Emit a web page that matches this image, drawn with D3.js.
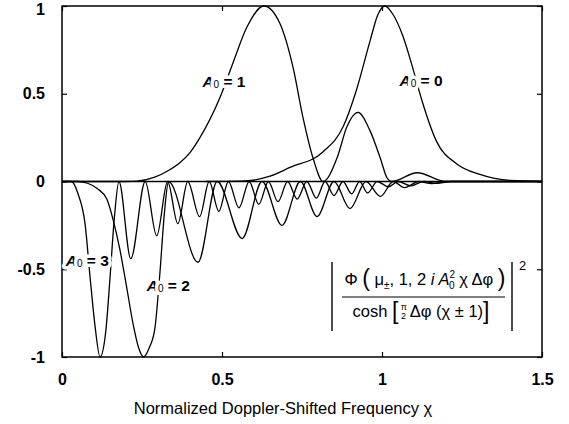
<!DOCTYPE html>
<html><head><meta charset="utf-8">
<script src="https://cdn.jsdelivr.net/npm/d3@7"></script>
<style>body{margin:0;background:#fff}svg{display:block}</style>
</head><body>
<svg id="c" width="569" height="424"></svg>
<script>
// ---- data ----
const xTicks = [0, 0.5, 1, 1.5];
const xTickLabels = ["0", "0.5", "1", "1.5"];
const yTicks = [-1, -0.5, 0, 0.5, 1];
const yTickLabels = ["-1", "-0.5", "0", "0.5", "1"];
const xTitle = "Normalized Doppler-Shifted Frequency χ";

const curveA0 = [[0.45,0],[0.55,0.002],[0.59,0.006],[0.65,0.03],[0.7125,0.08],[0.816,0.17],[0.878,0.31],[0.92,0.52],[0.9625,0.80],[0.987,0.95],[1.009,1.0],[1.035,0.95],[1.065,0.83],[1.094,0.66],[1.125,0.46],[1.17,0.23],[1.234,0.10],[1.306,0.04],[1.4,0.006],[1.5,0]];
const curveA1 = [[0,0],[0.2,0],[0.234,0.002],[0.29,0.025],[0.33,0.06],[0.37,0.11],[0.4,0.165],[0.431,0.25],[0.494,0.48],[0.534,0.674],[0.578,0.88],[0.631,1],[0.681,0.9],[0.722,0.65],[0.753,0.366],[0.784,0.137],[0.816,0],[0.86,0.137],[0.89,0.31],[0.925,0.394],[0.9625,0.29],[0.994,0.137],[1.016,0.02],[1.03,0],[1.11,0.05],[1.2,0],[1.5,0]];
const curveA2 = [[0,0],[0.05,0],[0.08,-0.01],[0.11,-0.04],[0.14,-0.1],[0.16,-0.22],[0.18,-0.38],[0.2,-0.58],[0.222,-0.81],[0.24,-0.95],[0.255,-1],[0.272,-0.95],[0.29,-0.84],[0.306,-0.52],[0.32,-0.18],[0.333,0],[0.425,-0.46],[0.485,0],[0.563,-0.325],[0.625,0],[0.6875,-0.25],[0.745,0],[0.797,-0.2],[0.85,0],[0.9,-0.155],[0.95,0],[0.995,-0.085],[1.035,0],[1.07,-0.035],[1.115,0],[1.155,-0.012],[1.2,0],[1.5,0]];
const curveA3 = [[0,0],[0.03,0],[0.05,-0.07],[0.072,-0.24],[0.088,-0.55],[0.103,-0.82],[0.119,-1],[0.137,-0.85],[0.15,-0.55],[0.163,-0.22],[0.178,0],[0.215,-0.44],[0.26,0],[0.296,-0.31],[0.33,0],[0.362,-0.24],[0.393,0],[0.43,-0.2],[0.46,0],[0.49,-0.17],[0.52,0],[0.553,-0.15],[0.585,0],[0.615,-0.13],[0.645,0],[0.675,-0.115],[0.705,0],[0.735,-0.1],[0.765,0],[0.795,-0.095],[0.822,0],[0.85,-0.08],[0.878,0],[0.905,-0.07],[0.93,0],[0.955,-0.065],[0.985,0],[1.02,-0.03],[1.05,0],[1.09,-0.025],[1.13,0],[1.17,-0.01],[1.22,0],[1.5,0]];

const labels = [
  {sub:"0", val:"0", x:1.122, y:0.578},
  {sub:"0", val:"1", x:0.506, y:0.575},
  {sub:"0", val:"2", x:0.332, y:-0.59},
  {sub:"0", val:"3", x:0.079, y:-0.445}
];

// ---- layout ----
const svg = d3.select("#c");
const x = d3.scaleLinear().domain([0, 1.5]).range([62, 542]);
const y = d3.scaleLinear().domain([-1, 1]).range([357, 6]);
const font = "'Liberation Sans', Arial, Helvetica, sans-serif";

// zero line
svg.append("line").attr("x1", x(0)).attr("x2", x(1.5)).attr("y1", y(0)).attr("y2", y(0))
  .attr("stroke", "#000").attr("stroke-width", 1.3);

const line = d3.line().x(d => x(d[0])).y(d => y(d[1])).curve(d3.curveMonotoneX);
[curveA0, curveA1, curveA2, curveA3].forEach(c => {
  svg.append("path").attr("d", line(c)).attr("fill", "none").attr("stroke", "#000").attr("stroke-width", 1.3);
});

// axes
const ax = g => g.call(s => s.select(".domain").remove())
  .call(s => s.selectAll("text").attr("font-family", font).attr("font-size", 16).attr("font-weight", "bold").attr("fill", "#000"))
  .call(s => s.selectAll("line").attr("stroke", "#000").attr("stroke-width", 1.2));
const gl = svg.append("g").attr("transform", `translate(${x(0)},0)`)
  .call(d3.axisLeft(y).tickValues(yTicks).tickSize(-5).tickPadding(17).tickFormat((d, i) => yTickLabels[i])).call(ax);
gl.selectAll("text").filter(d => d === 1).attr("dy", "0.5em");
svg.append("g").attr("transform", `translate(0,${y(-1)})`)
  .call(d3.axisBottom(x).tickValues(xTicks).tickSize(-5).tickPadding(17).tickFormat((d, i) => xTickLabels[i])).call(ax);
svg.append("g").attr("transform", `translate(${x(1.5)},0)`)
  .call(d3.axisRight(y).tickValues(yTicks).tickSize(-5).tickFormat("")).call(ax);
svg.append("g").attr("transform", `translate(0,${y(1)})`)
  .call(d3.axisTop(x).tickValues(xTicks).tickSize(-5).tickFormat("")).call(ax);

// frame
svg.append("rect").attr("x", x(0)).attr("y", y(1)).attr("width", x(1.5) - x(0)).attr("height", y(-1) - y(1))
  .attr("fill", "none").attr("stroke", "#000").attr("stroke-width", 1.5);

// title
svg.append("text").attr("x", 283).attr("y", 414).attr("text-anchor", "middle")
  .attr("font-family", font).attr("font-size", 16.5).text(xTitle);

// curve labels
labels.forEach(l => {
  const t = svg.append("text").attr("x", x(l.x)).attr("y", y(l.y)).attr("text-anchor", "middle")
    .attr("dominant-baseline", "central")
    .attr("font-family", font).attr("font-size", 15.5).attr("font-weight", "bold")
    .attr("stroke", "#fff").attr("stroke-width", 7).attr("paint-order", "stroke").attr("stroke-linejoin", "round");
  t.append("tspan").attr("font-style", "italic").text("A");
  t.append("tspan").attr("font-size", 10).attr("font-weight", "normal").attr("dy", 3).text(l.sub);
  t.append("tspan").attr("dy", -3).text(" = " + l.val);
});

// formula
const fg = svg.append("g").attr("font-family", font).attr("font-size", 16.5).attr("fill", "#000");
fg.append("line").attr("x1", 332).attr("x2", 332).attr("y1", 262).attr("y2", 331).attr("stroke", "#000").attr("stroke-width", 1.4);
fg.append("line").attr("x1", 512).attr("x2", 512).attr("y1", 262).attr("y2", 331).attr("stroke", "#000").attr("stroke-width", 1.4);
fg.append("line").attr("x1", 342).attr("x2", 505).attr("y1", 297).attr("y2", 297).attr("stroke", "#000").attr("stroke-width", 1.2);
fg.append("text").attr("x", 519).attr("y", 270).attr("font-size", 13).text("2");
const num = fg.append("text").attr("x", 425).attr("y", 285).attr("text-anchor", "middle");
num.append("tspan").text("Φ ");
num.append("tspan").attr("font-size", 23).attr("dy", 1).text("(");
num.append("tspan").attr("dy", -1).text(" μ");
num.append("tspan").attr("font-size", 10).attr("dy", 4).text("±");
num.append("tspan").attr("dy", -4).text(", 1, 2 ");
num.append("tspan").attr("font-style", "italic").text("i A");
num.append("tspan").attr("font-size", 10).attr("dy", -7).text("2");
num.append("tspan").attr("font-size", 10).attr("dx", -6).attr("dy", 11).text("0");
num.append("tspan").attr("dy", -4).text(" χ Δφ ");
num.append("tspan").attr("font-size", 23).attr("dy", 1).text(")");
const den = fg.append("text").attr("x", 421).attr("y", 317).attr("text-anchor", "middle");
den.append("tspan").text("cosh ");
den.append("tspan").attr("font-size", 23).attr("dy", 2).text("[");
den.append("tspan").attr("font-size", 9).attr("dy", -9).text(" π");
den.append("tspan").attr("font-size", 9).attr("dx", -6).attr("dy", 9).text("2");
den.append("tspan").attr("dy", -2).text(" Δφ (χ ± 1)");
den.append("tspan").attr("font-size", 23).attr("dy", 2).text("]");
</script>
</body></html>
